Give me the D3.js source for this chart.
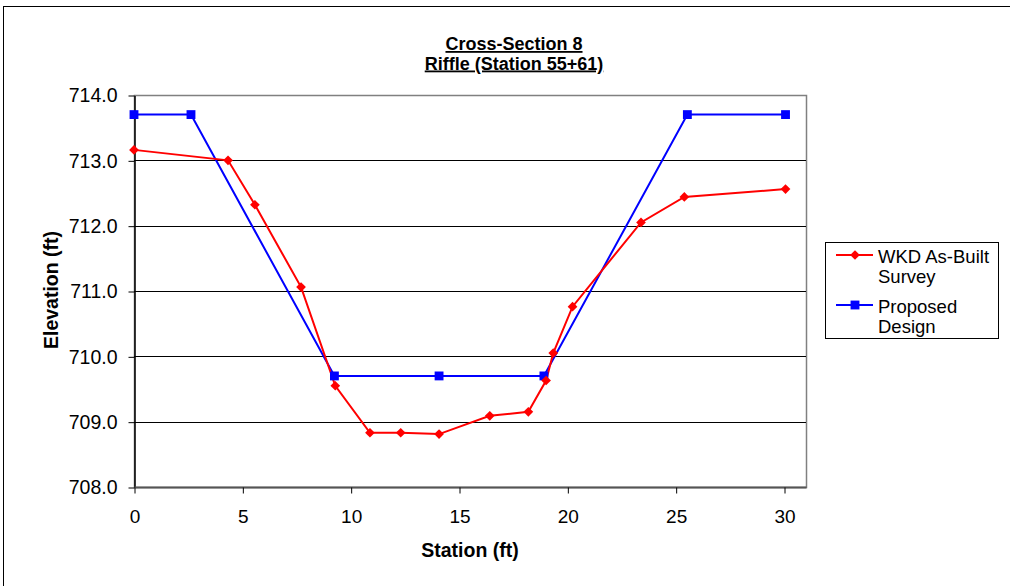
<!DOCTYPE html>
<html><head><meta charset="utf-8">
<script src="https://cdn.jsdelivr.net/npm/d3@7"></script>
<style>body{margin:0;background:#fff}svg{display:block;font-family:"Liberation Sans",Arial,sans-serif}</style>
</head><body><svg id="c" width="1010" height="586"></svg>
<script>
const surveyX = [0, 4.34, 5.58, 7.71, 9.29, 10.89, 12.31, 14.08, 16.42, 18.2, 19.02, 19.35, 20.24, 23.4, 25.4, 30.07];
const surveyY = [713.16, 713.0, 712.32, 711.06, 709.55, 708.83, 708.83, 708.81, 709.09, 709.15, 709.63, 710.05, 710.76, 712.05, 712.44, 712.56];
const designX = [0, 2.63, 9.25, 14.08, 18.92, 25.54, 30.07];
const designY = [713.7, 713.7, 709.7, 709.7, 709.7, 713.7, 713.7];
const xTicks = [0, 5, 10, 15, 20, 25, 30];
const yTicks = [708, 709, 710, 711, 712, 713, 714];
const seriesNames = [["WKD As-Built", "Survey"], ["Proposed", "Design"]];
const titleLines = ["Cross-Section 8", "Riffle (Station 55+61)"];

const FONT = '"Liberation Sans",Arial,sans-serif';
const svg = d3.select("#c");
const L = 134, R = 806, T = 95, B = 487;
const x = d3.scaleLinear().domain([0, 31]).range([L, L + (784 - 134) / 30 * 31]);
const y = d3.scaleLinear().domain([708, 714]).range([B, T]);

// outer frame
svg.append("rect").attr("x", 3.5).attr("y", 6.5).attr("width", 1020).attr("height", 600)
  .attr("fill", "none").attr("stroke", "#000").attr("stroke-width", 1);

// plot border
svg.append("rect").attr("x", L + 0.5).attr("y", T + 0.5).attr("width", R - L).attr("height", B - T)
  .attr("fill", "none").attr("stroke", "#808080").attr("stroke-width", 1.5);

// gridlines
svg.append("g").selectAll("line").data(yTicks.slice(1, -1)).join("line")
  .attr("x1", L).attr("x2", R).attr("y1", d => Math.round(y(d)) + 0.5).attr("y2", d => Math.round(y(d)) + 0.5)
  .attr("stroke", "#000").attr("stroke-width", 1);

// axes
const yAxis = d3.axisLeft(y).tickValues(yTicks).tickFormat(d3.format(".1f")).tickSize(6).tickSizeOuter(0);
const gy = svg.append("g").attr("transform", `translate(${L + 0.5},0.5)`).call(yAxis);
gy.selectAll("text").attr("font-size", 19.5).attr("fill", "#000").attr("x", -17).attr("font-family", FONT);
gy.select(".domain").attr("stroke", "#000").attr("stroke-width", 1.5);
gy.selectAll(".tick line").attr("stroke", "#000");

const xAxis = d3.axisBottom(x).tickValues(xTicks).tickSize(6).tickSizeOuter(0);
const gx = svg.append("g").attr("transform", `translate(0.5,${B + 0.5})`).call(xAxis);
gx.select(".domain").attr("d", `M${L},0H${R}`).attr("stroke", "#555").attr("stroke-width", 2);
gx.selectAll(".tick line").attr("stroke", "#000");
gx.selectAll("text").attr("font-size", 19).attr("fill", "#000").attr("y", 22).attr("font-family", FONT);

// titles
svg.append("g").selectAll("text").data(titleLines).join("text")
  .attr("x", 514).attr("y", (d, i) => 50 + i * 19.5).attr("text-anchor", "middle")
  .attr("font-size", 18).attr("font-weight", "bold").attr("text-decoration", "underline").text(d => d);
svg.append("text").attr("x", 470).attr("y", 557).attr("text-anchor", "middle")
  .attr("font-size", 19.5).attr("font-weight", "bold").text("Station (ft)");
svg.append("text").attr("transform", "translate(58,290) rotate(-90)").attr("text-anchor", "middle")
  .attr("font-size", 19.5).attr("font-weight", "bold").text("Elevation (ft)");

// series
const line = d3.line().x(d => x(d[0])).y(d => y(d[1]));
const survey = surveyX.map((v, i) => [v, surveyY[i]]);
const design = designX.map((v, i) => [v, designY[i]]);
svg.append("path").datum(design).attr("d", line).attr("fill", "none").attr("stroke", "#0000ff").attr("stroke-width", 2);
svg.append("path").datum(survey).attr("d", line).attr("fill", "none").attr("stroke", "#ff0000").attr("stroke-width", 2);
const diamond = d3.symbol().type(d3.symbolDiamond2).size(60);
const square = d3.symbol().type(d3.symbolSquare2).size(100);
svg.append("g").selectAll("path").data(design).join("path")
  .attr("transform", d => `translate(${x(d[0])},${y(d[1])})`).attr("d", square).attr("fill", "#0000ff");
svg.append("g").selectAll("path").data(survey).join("path")
  .attr("transform", d => `translate(${x(d[0])},${y(d[1])})`).attr("d", diamond).attr("fill", "#ff0000");

// legend
const lg = svg.append("g");
lg.append("rect").attr("x", 825.5).attr("y", 242.5).attr("width", 173).attr("height", 96)
  .attr("fill", "#fff").attr("stroke", "#000").attr("stroke-width", 1);
const colors = ["#ff0000", "#0000ff"];
const syms = [diamond, square];
const ly = [255, 305];
seriesNames.forEach((nm, i) => {
  lg.append("line").attr("x1", 836).attr("x2", 873).attr("y1", ly[i]).attr("y2", ly[i]).attr("stroke", colors[i]).attr("stroke-width", 2);
  lg.append("path").attr("transform", `translate(855,${ly[i]})`).attr("d", syms[i]).attr("fill", colors[i]);
  nm.forEach((t, j) => lg.append("text").attr("x", 878).attr("y", ly[i] + 7.5 + j * 20.5).attr("font-size", 18.5).text(t));
});
</script></body></html>
